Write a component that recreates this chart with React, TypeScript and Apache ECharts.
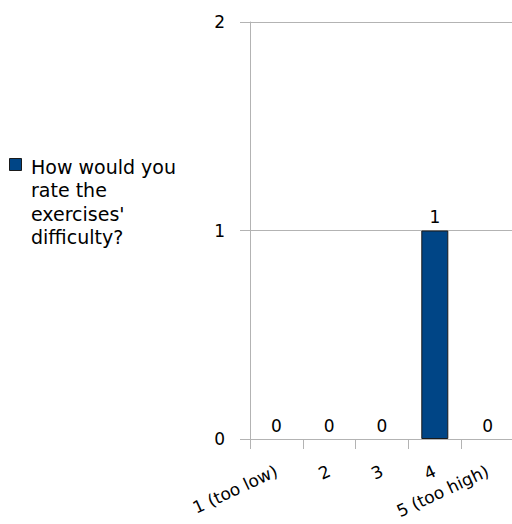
import React, { useEffect, useRef } from "react";
import * as echarts from "echarts";

const categories = ["1 (too low)", "2", "3", "4", "5 (too high)"];
const values = [0, 0, 0, 1, 0];
const seriesName = "How would you rate the exercises' difficulty?";
const legendLines = ["How would you", "rate the", "exercises'", "difficulty?"];
const yMin = 0;
const yMax = 2;
const yInterval = 1;

const FONT = "'DejaVu Sans', 'Liberation Sans', sans-serif";
const BAR = "#004586";
const GRID = "#b3b3b3";

export default function App() {
  const ref = useRef<HTMLDivElement>(null);
  useEffect(() => {
    if (!ref.current) return;
    const chart = echarts.init(ref.current, null, { renderer: "svg" });
    chart.setOption({
      animation: false,
      backgroundColor: "#ffffff",
      textStyle: { fontFamily: FONT },
      grid: {
        left: 250,
        right: -2,
        top: 22,
        bottom: 85,
        containLabel: false,
        outerBoundsMode: "none",
      },
      xAxis: {
        type: "category",
        data: categories,
        axisLine: { show: true, lineStyle: { color: GRID, width: 1 } },
        axisTick: { show: true, length: 10, lineStyle: { color: GRID } },
        axisLabel: {
          rotate: 25,
          margin: 31,
          fontSize: 17,
          color: "#000",
          fontFamily: FONT,
          interval: 0,
          hideOverlap: false,
        },
        splitLine: { show: false },
      },
      yAxis: {
        type: "value",
        min: yMin,
        max: yMax,
        interval: yInterval,
        axisLine: { show: true, lineStyle: { color: GRID, width: 1 } },
        axisTick: { show: true, length: 10, lineStyle: { color: GRID } },
        axisLabel: { margin: 25, fontSize: 17, color: "#000", fontFamily: FONT },
        splitLine: { show: true, lineStyle: { color: GRID, width: 1 } },
      },
      series: [
        {
          name: seriesName,
          type: "bar",
          data: values.map((v) => ({
            value: v,
            itemStyle: { borderWidth: v === 0 ? 0 : 1 },
          })),
          barWidth: 27,
          itemStyle: { color: BAR, borderColor: "#1a1a1a", borderWidth: 1 },
          label: {
            show: true,
            position: "top",
            distance: 5,
            fontSize: 17,
            color: "#000",
            fontFamily: FONT,
          },
        },
      ],
      graphic: [
        {
          type: "rect",
          left: 9,
          top: 158,
          shape: { width: 12, height: 12 },
          style: { fill: BAR, stroke: "#1a1a1a", lineWidth: 1 },
        },
        {
          type: "text",
          left: 31,
          top: 155,
          style: {
            text: legendLines.join("\n"),
            fontSize: 19,
            lineHeight: 23.5,
            fill: "#000",
            fontFamily: FONT,
          },
        },
      ],
    });
    return () => chart.dispose();
  }, []);
  return (
    <div
      ref={ref}
      style={{ position: "fixed", left: 0, top: 0, width: 512, height: 524 }}
    />
  );
}
